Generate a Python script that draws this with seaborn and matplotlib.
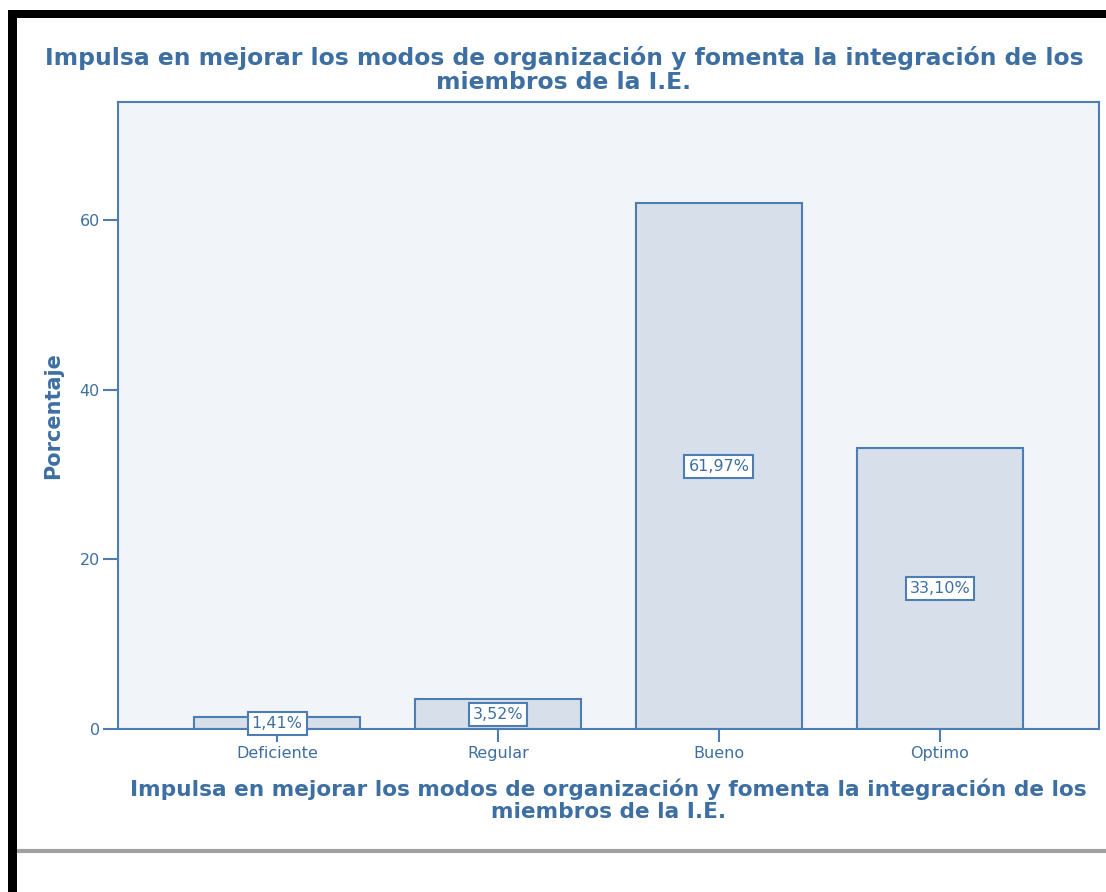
import pandas as pd
import numpy as np
import matplotlib.pyplot as plt
import seaborn as sns
from matplotlib.patches import Rectangle
from matplotlib.lines import Line2D

# Data
categories = ["Deficiente", "Regular", "Bueno", "Optimo"]
percentages = [1.41, 3.52, 61.97, 33.10]
labels = ["1,41%", "3,52%", "61,97%", "33,10%"]
title_text = "Impulsa en mejorar los modos de organización y fomenta la integración de los\nmiembros de la I.E."

df = pd.DataFrame({"categoria": categories, "porcentaje": percentages})

blue = "#3d6fa3"
edge_blue = "#4c7db3"
bar_fill = "#d7e0ea"
plot_bg = "#f1f4f8"

sns.set_style("white")
plt.rcParams['font.family'] = ['DejaVu Sans']

W, H = 1106, 892
fig = plt.figure(figsize=(W / 100, H / 100), dpi=100)
ax = fig.add_axes([118 / W, 1 - 729 / H, (1099 - 118) / W, (729 - 102) / H])
ax.set_facecolor(plot_bg)

sns.barplot(data=df, x="categoria", y="porcentaje", order=categories, color=bar_fill,
            saturation=1, width=0.75, edgecolor=edge_blue, linewidth=1.5, ax=ax)

for i, (v, lab) in enumerate(zip(percentages, labels)):
    ax.text(i, v / 2, lab, ha="center", va="center", fontsize=11.5, color=blue,
            bbox=dict(boxstyle="square,pad=0.25", facecolor="white", edgecolor=edge_blue, linewidth=1.5))

ax.set_xlim(-0.72, 3.72)
ax.set_ylim(0, 73.9)
ax.set_yticks([0, 20, 40, 60])
for s in ax.spines.values():
    s.set_color(edge_blue)
    s.set_linewidth(1.5)

ax.tick_params(axis="both", colors=edge_blue, labelcolor=blue, labelsize=11.5, length=11,
               width=1.5, direction="out", left=True, bottom=True)
ax.tick_params(axis="x", length=9, pad=3)
ax.tick_params(axis="y", pad=2)
ax.set_xlabel(title_text, fontsize=15.6, fontweight="bold", color=blue, labelpad=13, linespacing=1.1)
ax.set_ylabel("Porcentaje", fontsize=15, fontweight="bold", color=blue, labelpad=12)

fig.text(564 / W, 1 - 70 / H, title_text, ha="center", va="center", fontsize=16.9,
         fontweight="bold", color=blue, linespacing=1.1)

# frame decorations (black border and bottom shadow)
fig.patches.append(Rectangle((8 / W, 0), 9 / W, 1 - 10 / H, transform=fig.transFigure,
                             facecolor="black", edgecolor="none", zorder=10))
fig.patches.append(Rectangle((8 / W, 1 - 18 / H), 1 - 8 / W, 8 / H, transform=fig.transFigure,
                             facecolor="black", edgecolor="none", zorder=10))
fig.lines.append(Line2D([17 / W, 1], [1 - 851 / H, 1 - 851 / H], transform=fig.transFigure,
                        color="#a0a0a0", linewidth=3, zorder=5))

fig.savefig("out.png", dpi=100)
